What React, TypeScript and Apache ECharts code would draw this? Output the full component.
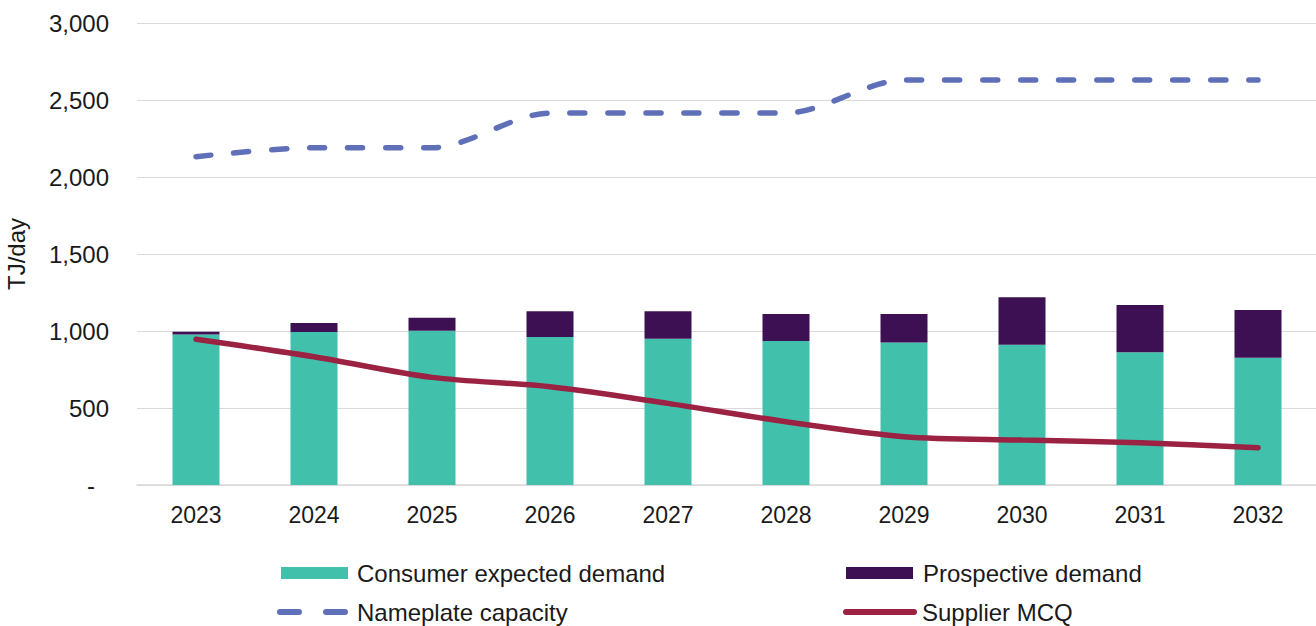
import React, { useEffect, useRef } from "react";
import * as echarts from "echarts";

const years = ["2023", "2024", "2025", "2026", "2027", "2028", "2029", "2030", "2031", "2032"];
const consumerExpected = [978, 994, 1002, 961, 950, 935, 926, 911, 862, 827];
const prospective = [17, 58, 84, 167, 178, 175, 184, 308, 307, 309];
const nameplate = [2132, 2190, 2190, 2415, 2415, 2415, 2630, 2630, 2630, 2630];
const supplierMCQ = [946, 833, 699, 638, 530, 411, 314, 292, 275, 242];

const FONT = "'Liberation Sans', Arial, sans-serif";
const TXT = "#1a1a1a";

const C_GREEN = "#41C1AC";
const C_PURPLE = "#3C1053";
const C_BLUE = "#6070B8";
const C_RED = "#9B2242";

const DASH_ICON =
  "path://M3,0H22A3,3 0 0 1 22,6H3A3,3 0 0 1 3,0ZM49,0H68A3,3 0 0 1 68,6H49A3,3 0 0 1 49,0Z";
const LINE_ICON = "path://M3,0H71A3,3 0 0 1 71,6H3A3,3 0 0 1 3,0Z";

function legendAt(name: string, left: number, top: number, w: number, h: number, icon: string, padLeft: number) {
  return {
    data: [{ name, icon }],
    left,
    top,
    padding: 0,
    itemWidth: w,
    itemHeight: h,
    selectedMode: false,
    textStyle: { fontSize: 24, color: TXT, fontFamily: FONT, padding: [0, 0, 0, padLeft] },
  };
}

export default function App() {
  const ref = useRef<HTMLDivElement>(null);
  useEffect(() => {
    if (!ref.current) return;
    const chart = echarts.init(ref.current, undefined, { renderer: "svg" });
    chart.setOption({
      animation: false,
      backgroundColor: "#ffffff",
      textStyle: { fontFamily: FONT },
      grid: {
        left: 137,
        top: 23,
        width: 1180,
        bottom: 141,
        containLabel: false,
        outerBoundsMode: "none",
      },
      legend: [
        legendAt("Consumer expected demand", 281, 561, 67, 12, "rect", 4),
        legendAt("Prospective demand", 846, 561, 67, 12, "rect", 5),
        legendAt("Nameplate capacity", 277, 600, 71, 6, DASH_ICON, 4),
        legendAt("Supplier MCQ", 843, 600, 74, 6, LINE_ICON, 0),
      ],
      xAxis: {
        type: "category",
        data: years,
        axisTick: { show: false },
        axisLine: { lineStyle: { color: "#d9d9d9", width: 1.5 } },
        axisLabel: { fontSize: 23, color: TXT, margin: 18, fontFamily: FONT },
      },
      yAxis: {
        type: "value",
        min: 0,
        max: 3000,
        interval: 500,
        name: "TJ/day",
        nameLocation: "middle",
        nameGap: 109,
        nameTextStyle: { fontSize: 24, color: TXT, fontFamily: FONT },
        axisLine: { show: false },
        axisTick: { show: false },
        splitLine: { lineStyle: { color: "#d9d9d9", width: 1 } },
        axisLabel: {
          fontSize: 24,
          color: TXT,
          margin: 28,
          fontFamily: FONT,
          formatter: (v: number) => (v === 0 ? "{d|-}" : v.toLocaleString("en-US")),
          rich: { d: { fontSize: 24, color: TXT, fontFamily: FONT, padding: [0, 14, 0, 0] } },
        },
      },
      series: [
        {
          name: "Consumer expected demand",
          type: "bar",
          stack: "demand",
          barWidth: 47,
          data: consumerExpected,
          itemStyle: { color: C_GREEN },
        },
        {
          name: "Prospective demand",
          type: "bar",
          stack: "demand",
          barWidth: 47,
          data: prospective,
          itemStyle: { color: C_PURPLE },
        },
        {
          name: "Nameplate capacity",
          type: "line",
          data: nameplate,
          symbol: "none",
          smooth: 0.3,
          z: 5,
          lineStyle: { color: C_BLUE, width: 5.5, type: [15, 23], cap: "round" },
          itemStyle: { color: C_BLUE },
        },
        {
          name: "Supplier MCQ",
          type: "line",
          data: supplierMCQ,
          symbol: "none",
          smooth: 0.3,
          z: 5,
          lineStyle: { color: C_RED, width: 5.5, cap: "round" },
          itemStyle: { color: C_RED },
        },
      ],
    });
    return () => chart.dispose();
  }, []);
  return (
    <div
      ref={ref}
      style={{ position: "fixed", left: 0, top: 0, width: 1316, height: 626, background: "#fff" }}
    />
  );
}
